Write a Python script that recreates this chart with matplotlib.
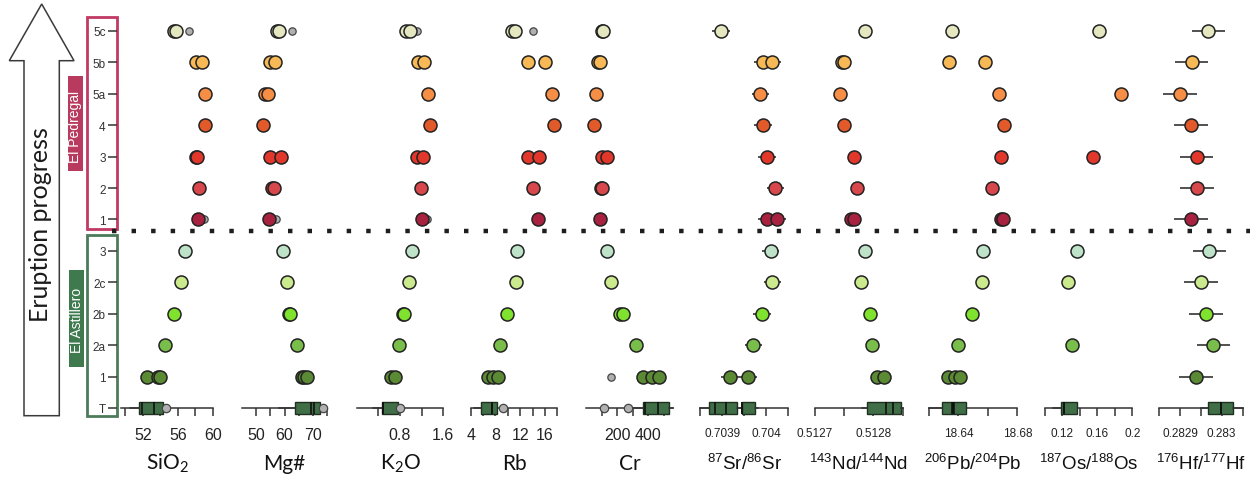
import matplotlib
matplotlib.use("Agg")
import matplotlib.pyplot as plt
from matplotlib import font_manager
from matplotlib.patches import Polygon, Rectangle
from matplotlib.transforms import blended_transform_factory

installed = {f.name for f in font_manager.fontManager.ttflist}
narrow = 'Liberation Sans Narrow' if 'Liberation Sans Narrow' in installed else 'Liberation Sans'

plt.rcParams['font.family'] = ['Liberation Sans', 'DejaVu Sans']
plt.rcParams['mathtext.fontset'] = 'custom'
plt.rcParams['mathtext.rm'] = 'Lato'
plt.rcParams['mathtext.sf'] = narrow

# eruptive units from bottom (T = regional tephra) to top
units = ['T', '1', '2a', '2b', '2c', '3', '1', '2', '3', '4', '5a', '5b', '5c']
unit_colors = ['#3f6e47', '#5b8a35', '#79bd4a', '#7fe22f', '#cbe98d', '#bfe3c8',
               '#a8223f', '#d8474c', '#e2382b', '#e35a2a', '#f68e46', '#f7b955', '#e4e7c0']

# one list per unit, units 1 .. 5c (Astillero 1-3, Pedregal 1-5c)
sio2 = [[52.5, 53.7, 54.0], [54.5], [55.5], [56.4], [56.8],
        [58.3], [58.4], [58.1, 58.2], [59.1], [59.1], [58.1, 58.7], [55.6, 55.8]]
mgno = [[66.0, 66.9, 67.8], [64.5], [61.5, 61.9], [60.8], [59.6],
        [54.7], [55.5, 56.3], [54.9, 58.8], [52.4], [53.2, 54.1], [54.9, 56.7], [57.3, 58.2]]
k2o = [[0.63, 0.71], [0.79], [0.85, 0.87], [0.97], [1.02],
       [1.20], [1.18], [1.12, 1.22], [1.36], [1.32], [1.13, 1.25], [0.92, 0.98]]
rb = [[6.8, 7.6, 8.4], [8.8], [9.8], [11.3], [11.5],
      [14.8], [14.1], [13.3, 15.0], [17.5], [17.2], [13.3, 16.0], [10.6, 11.2]]
cr = [[368, 422, 470], [319], [218, 235], [158], [136],
      [89], [95, 103], [100, 132], [52], [63], [78, 89], [100, 110]]
sr = [[0.703918, 0.703959], [0.703971], [0.703991], [0.704014], [0.704010],
      [0.704001, 0.704025], [0.704021], [0.704002], [0.703993], [0.703987],
      [0.703992, 0.704014], [0.703898]]
nd = [[0.512807, 0.512818], [0.512797], [0.512794], [0.512779], [0.512786],
      [0.512761, 0.512766], [0.512772], [0.512767], [0.512750], [0.512742],
      [0.512746, 0.512750], [0.512786]]
pb = [[18.633, 18.6376, 18.641], [18.6395], [18.649], [18.656], [18.6564],
      [18.669, 18.670], [18.663], [18.669], [18.671], [18.6677], [18.6338, 18.658], [18.6358]]
os_ = [[], [0.1313], [], [0.1271], [0.1367], [], [], [0.1556], [], [0.1868], [], [0.162]]
hf = [[0.282938], [0.28298], [0.282962], [0.28295], [0.28297],
      [0.282926], [0.282941], [0.28294], [0.282926], [0.2829], [0.282928], [0.282968]]

# analytical uncertainty (2 s.d.)
sr_err = 0.00002
hf_err = 0.00004

# minor samples (unit index, value)
sio2_minor = [(6, 59.0), (12, 57.3)]
mgno_minor = [(6, 56.9), (12, 62.5)]
k2o_minor = [(6, 1.29), (12, 1.11)]
rb_minor = [(12, 14.0)]
cr_minor = [(1, 158)]

# tephra box statistics
sio2_box = [dict(q1=51.6, med=53.3, mean=51.85, q3=54.3, whislo=50.5, whishi=54.3, fliers=[54.65])]
mgno_box = [dict(q1=63.8, med=69.4, mean=70.2, q3=72.6, whislo=58, whishi=72.6, fliers=[73.4])]
k2o_box = [dict(q1=0.46, med=0.49, mean=0.49, q3=0.77, whislo=0.3, whishi=0.77, fliers=[0.80])]
rb_box = [dict(q1=5.6, med=7.4, mean=7.4, q3=8.2, whislo=4.5, whishi=8.2, fliers=[9.2])]
cr_box = [dict(q1=367, med=460, mean=380, q3=533, whislo=300, whishi=563, fliers=[118, 270])]
sr_box = [dict(q1=0.703870, med=0.703885, mean=0.703909, q3=0.703933,
               whislo=0.70385, whishi=0.703933, fliers=[]),
          dict(q1=0.703946, med=0.703946, mean=0.703946, q3=0.703974,
               whislo=0.703933, whishi=0.703982, fliers=[])]
nd_box = [dict(q1=0.512789, med=0.512821, mean=0.512833, q3=0.512847,
               whislo=0.51278, whishi=0.51285, fliers=[])]
pb_box = [dict(q1=18.6286, med=18.6365, mean=18.6365, q3=18.645,
               whislo=18.62, whishi=18.645, fliers=[])]
os_box = [dict(q1=0.1188, med=0.1222, mean=0.1222, q3=0.1374,
               whislo=0.11, whishi=0.1374, fliers=[])]
hf_box = [dict(q1=0.282968, med=0.282998, mean=0.282998, q3=0.283026,
               whislo=0.28295, whishi=0.28305, fliers=[])]

# label, values, minor, box, err, xlim, ticks, tick labels, isotope panel
panels = [
    (r'$\mathrm{SiO_2}$', sio2, sio2_minor, sio2_box, None, (49.5, 60),
     [50, 52, 54, 56, 58, 60], ['', '52', '', '56', '', '60'], False),
    ('Mg#', mgno, mgno_minor, mgno_box, None, (45, 75),
     [50, 55, 60, 65, 70, 75], ['50', '', '60', '', '70', ''], False),
    (r'$\mathrm{K_2O}$', k2o, k2o_minor, k2o_box, None, (0, 1.6),
     [0.4, 0.8, 1.2, 1.6], ['', '0.8', '', '1.6'], False),
    ('Rb', rb, rb_minor, rb_box, None, (4, 18),
     [4, 6, 8, 10, 12, 14, 16, 18], ['4', '', '8', '', '12', '', '16', ''], False),
    ('Cr', cr, cr_minor, cr_box, None, (0, 560),
     [100, 200, 300, 400, 500], ['', '200', '', '400', ''], False),
    (r'$\mathsf{^{87}Sr/^{86}Sr}$', sr, [], sr_box, sr_err, (0.70385, 0.70405),
     [0.70385, 0.7039, 0.70395, 0.704, 0.70405], ['', '0.7039', '', '0.704', ''], True),
    (r'$\mathsf{^{143}Nd/^{144}Nd}$', nd, [], nd_box, None, (0.5127, 0.51285),
     [0.5127, 0.51275, 0.5128, 0.51285], ['0.5127', '', '0.5128', ''], True),
    (r'$\mathsf{^{206}Pb/^{204}Pb}$', pb, [], pb_box, None, (18.62, 18.68),
     [18.62, 18.64, 18.66, 18.68], ['', '18.64', '', '18.68'], True),
    (r'$\mathsf{^{187}Os/^{188}Os}$', os_, [], os_box, None, (0.10, 0.20),
     [0.10, 0.12, 0.14, 0.16, 0.18, 0.20], ['', '0.12', '', '0.16', '', '0.2'], True),
    (r'$\mathsf{^{176}Hf/^{177}Hf}$', hf, [], hf_box, hf_err, (0.28285, 0.28305),
     [0.28285, 0.2829, 0.28295, 0.283, 0.28305], ['', '0.2829', '', '0.283', ''], True),
]

# horizontal pixel span of each panel axis
spans = [(121, 213), (241.7, 327.3), (356.7, 443.3), (470.7, 557.4), (586.2, 673),
         (700, 788.3), (815, 902.5), (929, 1017.3), (1044.5, 1132.3), (1159.2, 1242.5)]

W, H = 1251, 481
ROW_PX = 31.42
BASE_PX = 409
ylo, yhi = -0.5, 12.5
ax_bottom = (H - (BASE_PX - ylo * ROW_PX)) / H
ax_height = (yhi - ylo) * ROW_PX / H


def row(ypx):
    return (BASE_PX - ypx) / ROW_PX


fig = plt.figure(figsize=(W / 100, H / 100), dpi=100)
fig.patch.set_facecolor('white')

# decoration layer: arrow, unit frames, separator
deco = fig.add_axes([0, ax_bottom, 1, ax_height], zorder=0)
deco.set_xlim(0, W)
deco.set_ylim(ylo, yhi)
deco.axis('off')

arrow = [(41.7, 5), (74, 61.7), (59.3, 61.7), (59.3, 416.7), (24, 416.7), (24, 61.7), (9.3, 61.7)]
deco.add_patch(Polygon([(x, row(y)) for x, y in arrow], closed=True, facecolor='white',
                       edgecolor='#3a3a3a', lw=1.1, clip_on=False))
deco.text(41, row(225), 'Eruption progress', rotation=90, ha='center', va='center',
          fontsize=18, family='Lato', color='#1a1a1a')

deco.add_patch(Rectangle((87.3, row(230)), 29.4, row(18.3) - row(230), fill=False,
                         edgecolor='#c23a63', lw=2.0, clip_on=False))
deco.add_patch(Rectangle((87.3, row(417.3)), 29.4, row(235.7) - row(417.3), fill=False,
                         edgecolor='#4b7b58', lw=2.0, clip_on=False))
deco.add_patch(Rectangle((67.7, row(171.7)), 15.6, row(76.7) - row(171.7),
                         facecolor='#b83a5e', edgecolor='none', clip_on=False))
deco.add_patch(Rectangle((69, row(367.7)), 15.3, row(270.7) - row(367.7),
                         facecolor='#3f7a4f', edgecolor='none', clip_on=False))
deco.text(75.5, row(127), 'El Pedregal', rotation=90, ha='center', va='center',
          fontsize=10, color='white')
deco.text(76.6, row(320), 'El Astillero', rotation=90, ha='center', va='center',
          fontsize=10, color='white')
deco.plot([112, 1250], [row(232), row(232)], color='#1e1e1e', lw=3.2,
          dashes=(1, 3.4), solid_capstyle='butt', dash_capstyle='butt', clip_on=False)

for k, ((label, vals, minor, boxes, err, lim, ticks, tlabels, iso), span) in enumerate(zip(panels, spans)):
    ax = fig.add_axes([span[0] / W, ax_bottom, (span[1] - span[0]) / W, ax_height], zorder=1)
    ax.patch.set_alpha(0)

    # tephra box plot(s)
    med_lw = 2.6 if 'Pb' in label else 1.2
    bkw = dict(positions=[0] * len(boxes), widths=0.38, patch_artist=True,
               showcaps=False, showmeans=True, meanline=True, manage_ticks=False,
               boxprops=dict(facecolor=unit_colors[0], edgecolor='#1f2f20', lw=1.0),
               medianprops=dict(color='#111111', lw=med_lw),
               meanprops=dict(color='#111111', ls='-', lw=1.2),
               whiskerprops=dict(color='#333333', lw=1.1),
               flierprops=dict(marker='o', markerfacecolor='#b0b0b0', markeredgecolor='#444444',
                               markersize=6, markeredgewidth=0.9))
    try:
        bp = ax.bxp(boxes, orientation='horizontal', **bkw)
    except TypeError:
        bp = ax.bxp(boxes, vert=False, **bkw)
    for arts in bp.values():
        for a in arts:
            a.set_clip_on(False)
            a.set_zorder(3)

    for u, v in minor:
        ax.scatter([v], [u], s=28, c='#b0b0b0', edgecolors='#444444', linewidths=0.9,
                   zorder=2.5, clip_on=False)

    for i, vs in enumerate(vals, start=1):
        if not vs:
            continue
        if err is not None:
            ax.errorbar(vs, [i] * len(vs), xerr=err, fmt='none', ecolor='#333333',
                        elinewidth=1.2, capsize=0, zorder=2)
        ax.scatter(vs, [i] * len(vs), s=88, c=unit_colors[i], edgecolors='#222222',
                   linewidths=1.1, zorder=3, clip_on=False)

    ax.set_xlim(*lim)
    ax.set_ylim(ylo, yhi)
    for s in ('top', 'right', 'left'):
        ax.spines[s].set_visible(False)
    ax.spines['bottom'].set_position(('data', 0))
    ax.spines['bottom'].set_color('#333333')
    ax.spines['bottom'].set_linewidth(1.1)
    ax.set_xticks(ticks)
    ax.set_xticklabels(tlabels)
    ax.tick_params(axis='x', direction='out', length=6, width=1.1, color='#333333',
                   pad=8, labelsize=8.5 if iso else 11.5, labelcolor='#222222')

    if k == 0:
        ax.spines['left'].set_position(('outward', 3.1))
        ax.set_yticks(range(len(units)))
        ax.set_yticklabels(units)
        ax.tick_params(axis='y', direction='out', length=6.5, width=1.1, color='#333333',
                       pad=1.5, labelsize=8.5, labelcolor='#333333')
    else:
        ax.set_yticks([])

    if iso:
        ax.text(0.5, row(470), label, transform=blended_transform_factory(ax.transAxes, ax.transData),
                ha='center', va='baseline', fontsize=13.5, color='#111111', clip_on=False)
    else:
        ax.text(0.5, row(470), label, transform=blended_transform_factory(ax.transAxes, ax.transData),
                ha='center', va='baseline', fontsize=15, family='Lato', color='#111111', clip_on=False)

fig.savefig('out.png', dpi=100, facecolor='white')
